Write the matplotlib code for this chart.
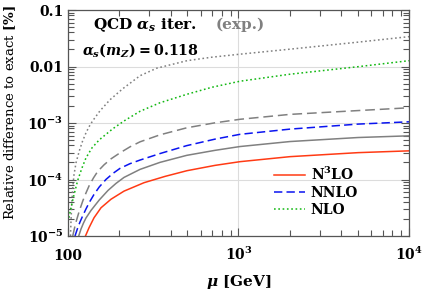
import matplotlib
matplotlib.use("Agg")
import matplotlib.pyplot as plt
from matplotlib.ticker import FixedLocator, FixedFormatter, LogLocator, NullFormatter

plt.rcParams['font.family'] = ['DejaVu Serif']
plt.rcParams['font.weight'] = 'bold'
plt.rcParams['mathtext.fontset'] = 'custom'
plt.rcParams['mathtext.rm'] = 'DejaVu Serif:bold'
plt.rcParams['mathtext.it'] = 'DejaVu Serif:bold:italic'
plt.rcParams['mathtext.bf'] = 'DejaVu Serif:bold'
plt.rcParams['mathtext.sf'] = 'DejaVu Serif'
plt.rcParams['lines.scale_dashes'] = False

# ---- data ----
mu_n3lo = [126.6, 132.8, 142.1, 156.2, 178.7, 213.1, 279.1, 370.7, 498.8, 728.0, 1020.5, 2004, 5022, 10000]
n3lo = [1.0e-5, 1.398e-5, 2.102e-5, 3.162e-5, 4.473e-5, 6.228e-5, 8.776e-5, 1.135e-4, 1.432e-4,
        1.778e-4, 2.068e-4, 2.537e-4, 2.987e-4, 3.214e-4]

mu_n3lo_exp = [115.6, 119.2, 123.3, 127.5, 136.4, 152.6, 171.7, 191.2, 213.1, 264.5, 346.5, 496.8,
               728.0, 1020.5, 2004, 5022, 10000]
n3lo_exp = [1.0e-5, 1.330e-5, 1.700e-5, 2.085e-5, 2.832e-5, 4.347e-5, 6.409e-5, 8.528e-5, 1.089e-4,
            1.510e-4, 2.010e-4, 2.675e-4, 3.281e-4, 3.832e-4, 4.697e-4, 5.533e-4, 5.929e-4]

mu_nnlo = [109.9, 113.7, 117.6, 121.9, 127.5, 133.3, 142.1, 152.6, 167.1, 183.6, 201.8, 231.0, 264.5,
           346.5, 496.8, 728.0, 1020.5, 2004, 5022, 10000]
nnlo = [1.0e-5, 1.358e-5, 1.771e-5, 2.262e-5, 3.012e-5, 3.926e-5, 5.441e-5, 7.392e-5, 1.004e-4,
        1.283e-4, 1.573e-4, 1.906e-4, 2.208e-4, 2.879e-4, 3.974e-4, 5.183e-4, 6.304e-4, 7.793e-4,
        9.561e-4, 1.050e-3]

mu_nnlo_exp = [106.6, 109.2, 112.1, 116.5, 122.4, 127.5, 133.3, 141.1, 149.4, 162.6, 178.7, 201.8,
               231.0, 264.5, 346.5, 496.8, 728.0, 1020.5, 2004, 5022, 10000]
nnlo_exp = [1.0e-5, 1.386e-5, 1.883e-5, 2.775e-5, 4.259e-5, 5.786e-5, 7.859e-5, 1.068e-4, 1.392e-4,
            1.815e-4, 2.319e-4, 2.962e-4, 3.785e-4, 4.642e-4, 6.176e-4, 8.220e-4, 1.008e-3,
            1.163e-3, 1.421e-3, 1.659e-3, 1.860e-3]

mu_nlo = [100, 102.7, 105.5, 108.4, 114.0, 120.8, 127.5, 138.3, 152.6, 182.9, 213.9, 264.5, 346.5,
          498.8, 699.1, 1020.5, 2004, 5022, 10000]
nlo = [1.771e-5, 2.61e-5, 3.77e-5, 5.33e-5, 9.64e-5, 1.605e-4, 2.415e-4, 3.634e-4, 5.04e-4, 7.89e-4,
       1.094e-3, 1.612e-3, 2.282e-3, 3.228e-3, 4.295e-3, 5.488e-3, 7.30e-3, 9.92e-3, 1.267e-2]

mu_nlo_exp = [103.4, 104.1, 105.1, 106.6, 108.4, 111.4, 116.5, 121.6, 127.5, 132.8, 139.6, 154.1,
              176.3, 209.4, 264.5, 331.3, 498.8, 699.1, 1020.5, 2004, 5022, 10000]
nlo_exp = [1.0e-5, 1.771e-5, 3.545e-5, 7.098e-5, 1.206e-4, 1.969e-4, 3.214e-4, 4.737e-4, 6.704e-4,
           8.563e-4, 1.094e-3, 1.646e-3, 2.578e-3, 4.041e-3, 6.867e-3, 9.330e-3, 1.267e-2,
           1.462e-2, 1.652e-2, 2.026e-2, 2.697e-2, 3.376e-2]

x_ticks = [100, 1000, 10000]
x_labels = ['100', '$10^3$', '$10^4$']
y_ticks = [1e-5, 1e-4, 1e-3, 1e-2, 1e-1]
y_labels = ['$10^{-5}$', '$10^{-4}$', '$10^{-3}$', '0.01', '0.1']

RED = '#ff3a14'
BLUE = '#0a14f0'
GREEN = '#12b812'
GRAY = '#808080'

fig = plt.figure(figsize=(4.24, 2.98), dpi=100)
ax = fig.add_axes([68/424, 62/298, (409-68)/424, (236-10)/298])
ax.set_xscale('log')
ax.set_yscale('log')

lw = 1.1
ax.plot(mu_nlo_exp, nlo_exp, color=GRAY, lw=lw, dashes=(1.2, 1.9))
ax.plot(mu_nnlo_exp, nnlo_exp, color=GRAY, lw=lw, dashes=(7, 3.5))
ax.plot(mu_n3lo_exp, n3lo_exp, color=GRAY, lw=lw)
ax.plot(mu_n3lo, n3lo, color=RED, lw=lw, label='N$^3$LO')
ax.plot(mu_nnlo, nnlo, color=BLUE, lw=lw, dashes=(6, 3), label='NNLO')
ax.plot(mu_nlo, nlo, color=GREEN, lw=lw, dashes=(1.2, 1.9), label='NLO')

ax.set_xlim(100, 10000)
ax.set_ylim(1e-5, 0.1)

ax.xaxis.set_major_locator(FixedLocator(x_ticks))
ax.xaxis.set_major_formatter(FixedFormatter(x_labels))
ax.yaxis.set_major_locator(FixedLocator(y_ticks))
ax.yaxis.set_major_formatter(FixedFormatter(y_labels))
ax.xaxis.set_minor_locator(LogLocator(base=10, subs=range(2, 10)))
ax.yaxis.set_minor_locator(LogLocator(base=10, subs=range(2, 10)))
ax.xaxis.set_minor_formatter(NullFormatter())
ax.yaxis.set_minor_formatter(NullFormatter())

ax.tick_params(which='both', direction='in', top=True, right=True, color='#555555', width=0.8)
ax.tick_params(which='major', length=6, labelsize=10)
ax.tick_params(which='minor', length=4)
ax.tick_params(axis='x', pad=17)
plt.setp(ax.get_xticklabels(), va='baseline')
for s in ax.spines.values():
    s.set_color('#555555')
    s.set_linewidth(0.9)

ax.grid(True, which='major', color='#dcdcdc', lw=0.8)
ax.set_axisbelow(True)

ax.set_xlabel(r'$\mu\ \mathrm{[GeV]}$', fontsize=11)
ax.xaxis.set_label_coords(0.5, -0.165)
ax.set_ylabel(r'Relative difference to exact $\mathsf{[\%]}$', fontsize=9.5)
ax.yaxis.set_label_coords(-0.148, 0.544)

ax.text(93/424, 1 - 25/298, r'QCD $\alpha_s$ iter.', transform=fig.transFigure,
        fontsize=11, va='center', ha='left', color='black')
ax.text(216/424, 1 - 25/298, '(exp.)', transform=fig.transFigure,
        fontsize=11, va='center', ha='left', color=GRAY)
ax.text(82/424, 1 - 50/298, r'$\alpha_s(m_Z) = 0.118$', transform=fig.transFigure,
        fontsize=10.3, va='center', ha='left', color='black')

leg = ax.legend(loc='upper left', frameon=False, fontsize=10, handlelength=2.2,
                handletextpad=0.45, labelspacing=0.2, borderpad=0, borderaxespad=0,
                bbox_to_anchor=((274 - 68) / 341, (236 - 166) / 226))

fig.savefig('out.png', dpi=100)
